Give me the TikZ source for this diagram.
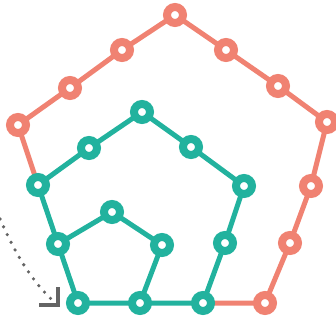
\documentclass[tikz,border=0pt]{standalone}
\usetikzlibrary{arrows.meta,calc}
\definecolor{salmon}{RGB}{240,130,114}
\definecolor{tealc}{RGB}{34,178,158}
\definecolor{arrgray}{RGB}{100,100,100}
\tikzset{
  dotnode/.style={circle,inner sep=0pt,minimum size=16pt,line width=8pt,fill=white},
  onode/.style={dotnode,draw=salmon},
  tnode/.style={dotnode,draw=tealc},
  oline/.style={draw=salmon,line width=5pt},
  tline/.style={draw=tealc,line width=5pt},
  dotarrow/.style={draw=arrgray,line width=3.6pt,line cap=round,dash pattern=on 0pt off 8.6pt},
  barb/.style={draw=arrgray,line width=3.8pt}
}
\begin{document}
\begin{tikzpicture}[x=1pt,y=-1pt]
\useasboundingbox (0,0) rectangle (336,320);
% coordinates of points
\coordinate (o1) at (175,15);
\coordinate (o2) at (122,50);
\coordinate (o3) at (70,88);
\coordinate (o4) at (18,125);
\coordinate (o5) at (226,50);
\coordinate (o6) at (278,86);
\coordinate (o7) at (327,122);
\coordinate (o8) at (311,186);
\coordinate (o9) at (290,243);
\coordinate (o10) at (265,303);
\coordinate (b1) at (78,303);
\coordinate (b2) at (140,303);
\coordinate (b3) at (203,303);
\coordinate (s1) at (162,245);
\coordinate (s2) at (112,212);
\coordinate (s3) at (58,244);
\coordinate (m1) at (225,243);
\coordinate (m2) at (244,186);
\coordinate (m3) at (191,147);
\coordinate (m4) at (142,112);
\coordinate (m5) at (89,148);
\coordinate (m6) at (38,185);
% lines
\draw[oline] (b3) -- (o10) -- (o9) -- (o8) -- (o7) -- (o6) -- (o5) -- (o1) -- (o2) -- (o3) -- (o4) -- (m6);
\draw[tline] (b2) -- (b3) -- (m1) -- (m2) -- (m3) -- (m4) -- (m5) -- (m6) -- (s3);
\draw[tline] (b1) -- (b2) -- (s1) -- (s2) -- (s3) -- (b1);
% nodes
\foreach \p in {o1,o2,o3,o4,o5,o6,o7,o8,o9,o10}{\node[onode] (n\p) at (\p) {};}
\foreach \p in {b1,b2,b3,s1,s2,s3,m1,m2,m3,m4,m5,m6}{\node[tnode] (n\p) at (\p) {};}
% arrow
\coordinate (astart) at (0,219);
\coordinate (aend) at (58,305);
\draw[dotarrow] (astart) .. controls (12,246) and (30,282) .. (aend);
\draw[barb,line cap=butt] ($(aend)+(-19,0)$) -- (aend) -- ($(aend)+(0,-18)$);
\end{tikzpicture}
\end{document}
